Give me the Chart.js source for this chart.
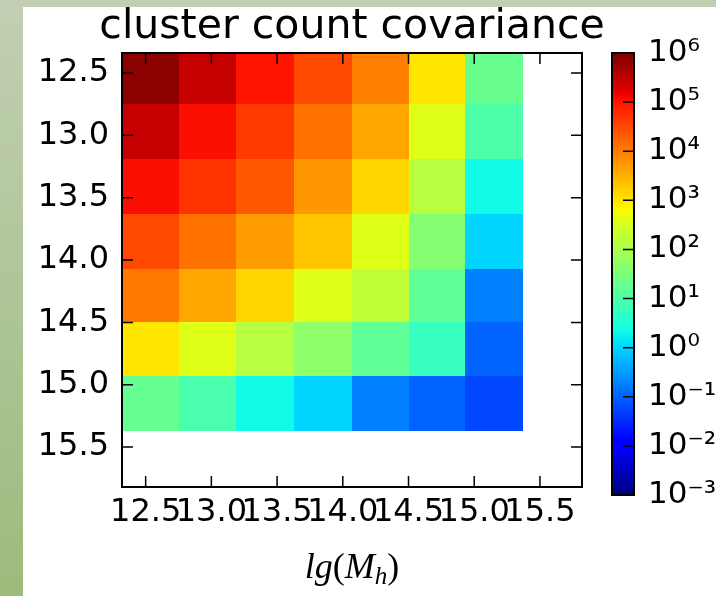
<!DOCTYPE html>
<html>
<head>
<meta charset="utf-8">
<script src="https://cdn.jsdelivr.net/npm/chart.js@4.4.1/dist/chart.umd.min.js"></script>
<style>
  html, body { margin: 0; padding: 0; }
  body { width: 716px; height: 596px; position: relative; overflow: hidden; background: linear-gradient(#c2cfb3, #9cbb7c); }
  #sheet { position: absolute; left: 23px; top: 7px; right: 0; bottom: 0; background: #fff; }
  #heat { position: absolute; left: 0; top: 0; }
  #cbar { position: absolute; left: 590px; top: 0; }
</style>
</head>
<body>
<div id="sheet"></div>
<canvas id="heat" width="716" height="596"></canvas>
<canvas id="cbar" width="126" height="596"></canvas>
<script>
// mass bin edges (same for both axes), tick labels and log10 covariance
const binEdges = [12.32, 12.75, 13.19, 13.63, 14.07, 14.50, 14.93, 15.37];
const tickValues = [12.5, 13.0, 13.5, 14.0, 14.5, 15.0, 15.5];
const logCovariance = [
  [5.9, 5.45, 5.0, 4.5, 3.98, 3.0, 1.3],
  [5.45, 5.05, 4.65, 4.1, 3.6, 2.6, 1.0],
  [5.05, 4.7, 4.35, 3.75, 3.15, 2.15, 0.33],
  [4.5, 4.1, 3.7, 3.3, 2.6, 1.6, 0.0],
  [4.05, 3.6, 3.15, 2.6, 2.25, 1.2, -0.75],
  [3.0, 2.6, 2.15, 1.7, 1.2, 0.75, -1.0],
  [1.25, 0.95, 0.33, 0.0, -0.75, -1.0, -1.25]
];
const cbarExponents = [-3, -2, -1, 0, 1, 2, 3, 4, 5, 6];
const cbarMin = -3;
const cbarMax = 6;
const title = 'cluster count covariance';

const FONT = 'DejaVu Sans';

// matplotlib jet segments
const jetRed = [[0, 0], [0.35, 0], [0.66, 1], [0.89, 1], [1, 0.5]];
const jetGreen = [[0, 0], [0.125, 0], [0.375, 1], [0.64, 1], [0.91, 0], [1, 0]];
const jetBlue = [[0, 0.5], [0.11, 1], [0.34, 1], [0.65, 0], [1, 0]];
const jetStops = [0, 0.11, 0.125, 0.34, 0.35, 0.375, 0.64, 0.65, 0.66, 0.89, 0.91, 1];

function channel(points, t) {
  for (let i = 1; i < points.length; i++) {
    const [t0, v0] = points[i - 1];
    const [t1, v1] = points[i];
    if (t <= t1) return v0 + (v1 - v0) * (t - t0) / (t1 - t0);
  }
  return points[points.length - 1][1];
}

function jet(t) {
  t = Math.min(1, Math.max(0, t));
  const r = Math.round(255 * channel(jetRed, t));
  const g = Math.round(255 * channel(jetGreen, t));
  const b = Math.round(255 * channel(jetBlue, t));
  return `rgb(${r},${g},${b})`;
}

const cells = [];
logCovariance.forEach((row, i) => row.forEach((v, j) => {
  cells.push({
    x: (binEdges[j] + binEdges[j + 1]) / 2, y: (binEdges[i] + binEdges[i + 1]) / 2,
    x0: binEdges[j], x1: binEdges[j + 1], y0: binEdges[i], y1: binEdges[i + 1], v
  });
}));

const heatCells = {
  id: 'heatCells',
  beforeDatasetsDraw(chart) {
    const { ctx, chartArea: a, scales: { x, y } } = chart;
    ctx.save();
    ctx.beginPath();
    ctx.rect(a.left, a.top, a.right - a.left, a.bottom - a.top);
    ctx.clip();
    for (const c of chart.data.datasets[0].data) {
      const px0 = Math.round(x.getPixelForValue(c.x0));
      const px1 = Math.round(x.getPixelForValue(c.x1));
      const py0 = Math.round(y.getPixelForValue(c.y0));
      const py1 = Math.round(y.getPixelForValue(c.y1));
      ctx.fillStyle = jet((c.v - cbarMin) / (cbarMax - cbarMin));
      ctx.fillRect(px0, py0, px1 - px0, py1 - py0);
    }
    ctx.restore();
  }
};

const frame = {
  id: 'frame',
  afterDraw(chart) {
    const { ctx, chartArea: a, scales: { x, y } } = chart;
    const len = 11;
    ctx.save();
    ctx.strokeStyle = '#000';
    ctx.lineWidth = 1.5;
    ctx.beginPath();
    for (const t of tickValues) {
      const px = x.getPixelForValue(t);
      ctx.moveTo(px, a.top); ctx.lineTo(px, a.top + len);
      ctx.moveTo(px, a.bottom); ctx.lineTo(px, a.bottom - len);
      const py = y.getPixelForValue(t);
      ctx.moveTo(a.left, py); ctx.lineTo(a.left + len, py);
      ctx.moveTo(a.right, py); ctx.lineTo(a.right - len, py);
    }
    ctx.stroke();
    ctx.lineWidth = 2;
    ctx.strokeRect(a.left, a.top, a.right - a.left, a.bottom - a.top);

    ctx.fillStyle = '#000';
    ctx.textBaseline = 'alphabetic';
    ctx.textAlign = 'center';
    ctx.font = `41px "${FONT}"`;
    ctx.fillText(title, (a.left + a.right) / 2, 38);

    // x axis label lg(M_h), math style
    ctx.textAlign = 'left';
    const parts = [
      ['lg', 'italic 36px "Liberation Serif"', 0],
      ['(', '36px "Liberation Serif"', 0],
      ['M', 'italic 36px "Liberation Serif"', 0],
      ['h', 'italic 25px "Liberation Serif"', 6],
      [')', '36px "Liberation Serif"', 0]
    ];
    let total = 0;
    for (const [s, f] of parts) { ctx.font = f; total += ctx.measureText(s).width; }
    let cx = (a.left + a.right) / 2 - total / 2;
    for (const [s, f, dy] of parts) {
      ctx.font = f;
      ctx.fillText(s, cx, 578 + dy);
      cx += ctx.measureText(s).width;
    }
    ctx.restore();
  }
};

new Chart(document.getElementById('heat'), {
  type: 'scatter',
  data: { datasets: [{ data: cells, pointRadius: 0, pointHoverRadius: 0 }] },
  options: {
    responsive: false,
    animation: false,
    events: [],
    layout: { padding: { left: 0, right: 134, top: 53, bottom: 0 } },
    plugins: { legend: { display: false }, tooltip: { enabled: false } },
    scales: {
      x: {
        type: 'linear', min: 12.32, max: 15.82,
        afterBuildTicks: (s) => { s.ticks = tickValues.map((value) => ({ value })); },
        afterFit: (s) => { s.height = 109; },
        grid: { display: false, drawTicks: false },
        border: { display: false },
        ticks: {
          autoSkip: false, maxRotation: 0, minRotation: 0, padding: 6, color: '#000',
          font: { family: FONT, size: 32 },
          callback: (v) => Number(v).toFixed(1)
        }
      },
      y: {
        type: 'linear', reverse: true, min: 12.34, max: 15.82,
        afterBuildTicks: (s) => { s.ticks = tickValues.map((value) => ({ value })); },
        afterFit: (s) => { s.width = 122; },
        grid: { display: false, drawTicks: false },
        border: { display: false },
        ticks: {
          autoSkip: false, padding: 13, color: '#000',
          font: { family: FONT, size: 32 },
          callback: (v) => Number(v).toFixed(1)
        }
      }
    }
  },
  plugins: [heatCells, frame]
});

const sup = { '-': '\u207B', '0': '\u2070', '1': '\u00B9', '2': '\u00B2', '3': '\u00B3', '4': '\u2074', '5': '\u2075', '6': '\u2076' };

const cbarFrame = {
  id: 'cbarFrame',
  afterDraw(chart) {
    const { ctx, chartArea: a, scales: { y } } = chart;
    ctx.save();
    ctx.strokeStyle = '#000';
    ctx.lineWidth = 1.5;
    ctx.beginPath();
    for (const e of cbarExponents.slice(1, -1)) {
      const py = y.getPixelForValue(Math.pow(10, e));
      ctx.moveTo(a.right, py); ctx.lineTo(a.right - 11, py);
    }
    ctx.stroke();
    ctx.lineWidth = 2;
    ctx.strokeRect(a.left, a.top, a.right - a.left, a.bottom - a.top);
    ctx.restore();
  }
};

new Chart(document.getElementById('cbar'), {
  type: 'bar',
  data: {
    labels: ['cov'],
    datasets: [{
      data: [[Math.pow(10, cbarMin), Math.pow(10, cbarMax)]],
      barPercentage: 1, categoryPercentage: 1, borderWidth: 0, borderSkipped: false,
      backgroundColor: (c) => {
        const a = c.chart.chartArea;
        if (!a) return '#000';
        const g = c.chart.ctx.createLinearGradient(0, a.bottom, 0, a.top);
        for (const t of jetStops) g.addColorStop(t, jet(t));
        return g;
      }
    }]
  },
  options: {
    responsive: false,
    animation: false,
    events: [],
    layout: { padding: { left: 22, right: 0, top: 53, bottom: 101 } },
    plugins: { legend: { display: false }, tooltip: { enabled: false } },
    scales: {
      x: { display: false },
      y: {
        type: 'logarithmic', position: 'right',
        min: Math.pow(10, cbarMin), max: Math.pow(10, cbarMax),
        afterBuildTicks: (s) => { s.ticks = cbarExponents.map((e) => ({ value: Math.pow(10, e) })); },
        afterFit: (s) => { s.width = 82; },
        grid: { display: false, drawTicks: false },
        border: { display: false },
        ticks: {
          autoSkip: false, padding: 14, color: '#000',
          font: { family: FONT, size: 31 },
          callback: (v) => '10' + String(Math.round(Math.log10(v))).split('').map((ch) => sup[ch]).join('')
        }
      }
    }
  },
  plugins: [cbarFrame]
});
</script>
</body>
</html>
